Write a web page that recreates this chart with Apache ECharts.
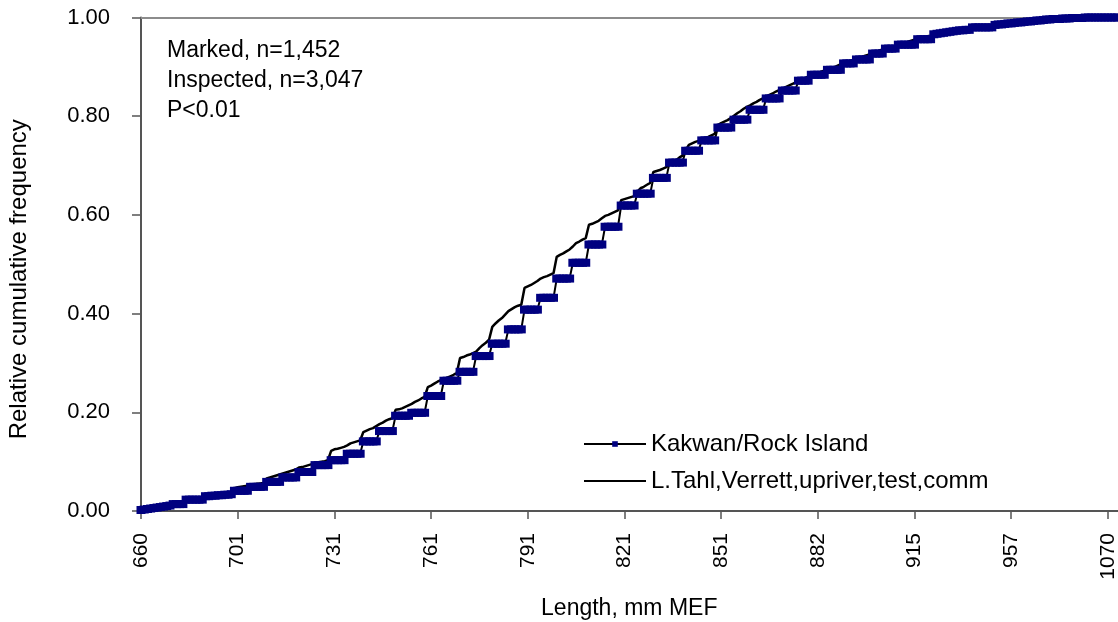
<!DOCTYPE html>
<html><head><meta charset="utf-8">
<script src="https://cdn.jsdelivr.net/npm/echarts@6/dist/echarts.min.js"></script>
<style>html,body{margin:0;padding:0;background:#fff}#c{width:1118px;height:622px}</style>
</head><body><div id="c"></div>
<script>
const lengths = [
660,662,664,666,668,670,672,674,676,678,
680,682,683,684,685,686,687,688,689,690,
691,692,693,694,695,696,697,698,699,700,
701,702,703,704,705,706,707,708,709,710,
711,712,713,714,715,716,717,718,719,720,
721,722,723,724,725,726,727,728,729,730,
731,732,733,734,735,736,737,738,739,740,
741,742,743,744,745,746,747,748,749,750,
751,752,753,754,755,756,757,758,759,760,
761,762,763,764,765,766,767,768,769,770,
771,772,773,774,775,776,777,778,779,780,
781,782,783,784,785,786,787,788,789,790,
791,792,793,794,795,796,797,798,799,800,
801,802,803,804,805,806,807,808,809,810,
811,812,813,814,815,816,817,818,819,820,
821,822,823,824,825,826,827,828,829,830,
831,832,833,834,835,836,837,838,839,840,
841,842,843,844,845,846,847,848,849,850,
851,852,853,854,855,856,857,858,859,860,
861,862,863,864,865,866,867,868,869,870,
871,872,873,874,875,876,877,878,879,881,
882,883,884,885,886,887,888,889,890,891,
892,893,894,895,896,897,898,899,900,901,
902,903,904,905,906,907,908,909,911,913,
915,916,917,918,919,920,921,922,923,924,
925,926,927,928,929,930,931,932,933,934,
936,938,940,942,944,946,948,950,952,955,
957,959,961,963,965,967,969,971,973,975,
977,980,983,986,989,992,995,999,1003,1007,
1011,1016,1021,1026,1031,1036,1042,1048,1055,1062,
1070,1076,1083,1090];

const kakwan = [
0.002,0.003,0.004,0.005,0.006,0.007,0.008,0.009,0.010,0.011,
0.014,0.014,0.014,0.014,0.023,0.023,0.023,0.023,0.023,0.023,
0.030,0.030,0.031,0.031,0.032,0.032,0.033,0.033,0.034,0.041,
0.041,0.041,0.041,0.041,0.049,0.049,0.049,0.049,0.049,0.059,
0.059,0.059,0.059,0.059,0.068,0.068,0.068,0.068,0.068,0.079,
0.079,0.079,0.079,0.079,0.093,0.093,0.093,0.093,0.093,0.103,
0.103,0.103,0.103,0.103,0.116,0.116,0.116,0.116,0.116,0.141,
0.141,0.141,0.141,0.141,0.162,0.162,0.162,0.162,0.162,0.193,
0.193,0.193,0.193,0.193,0.199,0.199,0.199,0.199,0.199,0.233,
0.233,0.233,0.233,0.233,0.264,0.264,0.264,0.264,0.264,0.282,
0.282,0.282,0.282,0.282,0.314,0.314,0.314,0.314,0.314,0.339,
0.339,0.339,0.339,0.339,0.368,0.368,0.368,0.368,0.368,0.408,
0.408,0.408,0.408,0.408,0.432,0.432,0.432,0.432,0.432,0.471,
0.471,0.471,0.471,0.471,0.503,0.503,0.503,0.503,0.503,0.540,
0.540,0.540,0.540,0.540,0.576,0.576,0.576,0.576,0.576,0.619,
0.619,0.619,0.619,0.619,0.643,0.643,0.643,0.643,0.643,0.675,
0.675,0.675,0.675,0.675,0.706,0.706,0.706,0.706,0.706,0.730,
0.730,0.730,0.730,0.730,0.751,0.751,0.751,0.751,0.751,0.777,
0.777,0.777,0.777,0.777,0.793,0.793,0.793,0.793,0.793,0.813,
0.813,0.813,0.813,0.813,0.836,0.836,0.836,0.836,0.836,0.852,
0.852,0.852,0.852,0.852,0.872,0.872,0.872,0.872,0.884,0.884,
0.884,0.884,0.884,0.894,0.894,0.894,0.894,0.894,0.907,0.907,
0.907,0.907,0.915,0.915,0.915,0.915,0.915,0.927,0.927,0.927,
0.927,0.937,0.937,0.937,0.937,0.945,0.945,0.945,0.945,0.945,
0.945,0.956,0.956,0.956,0.956,0.956,0.966,0.967,0.968,0.969,
0.970,0.971,0.972,0.973,0.974,0.974,0.975,0.975,0.980,0.980,
0.980,0.980,0.980,0.980,0.980,0.985,0.986,0.986,0.987,0.988,
0.988,0.989,0.990,0.990,0.991,0.992,0.992,0.993,0.994,0.994,
0.995,0.996,0.996,0.997,0.997,0.997,0.998,0.998,0.998,0.999,
0.999,0.999,0.999,1,1,1,1,1,1,1,
1,1,1,1];

const tahl = [
0.002,0.003,0.004,0.005,0.006,0.007,0.008,0.009,0.010,0.011,
0.013,0.014,0.016,0.017,0.019,0.020,0.022,0.023,0.024,0.025,
0.027,0.028,0.029,0.030,0.031,0.032,0.034,0.035,0.036,0.046,
0.048,0.049,0.050,0.051,0.052,0.054,0.055,0.056,0.057,0.066,
0.068,0.070,0.072,0.074,0.076,0.078,0.080,0.082,0.084,0.088,
0.089,0.091,0.093,0.095,0.098,0.099,0.100,0.101,0.103,0.122,
0.125,0.126,0.128,0.130,0.133,0.137,0.139,0.141,0.143,0.160,
0.163,0.166,0.168,0.172,0.176,0.179,0.183,0.186,0.188,0.205,
0.206,0.208,0.211,0.214,0.217,0.221,0.224,0.228,0.231,0.251,
0.254,0.258,0.262,0.265,0.267,0.270,0.273,0.276,0.280,0.310,
0.312,0.315,0.317,0.320,0.323,0.330,0.336,0.341,0.347,0.373,
0.380,0.386,0.391,0.398,0.405,0.409,0.413,0.416,0.418,0.452,
0.455,0.458,0.462,0.466,0.471,0.474,0.476,0.479,0.482,0.515,
0.519,0.522,0.526,0.530,0.536,0.543,0.546,0.550,0.553,0.580,
0.582,0.585,0.588,0.593,0.598,0.600,0.603,0.606,0.609,0.630,
0.632,0.634,0.636,0.638,0.647,0.654,0.657,0.661,0.665,0.687,
0.689,0.691,0.694,0.697,0.702,0.707,0.711,0.716,0.720,0.731,
0.742,0.745,0.748,0.750,0.753,0.756,0.758,0.761,0.764,0.782,
0.786,0.789,0.792,0.796,0.801,0.806,0.810,0.815,0.819,0.822,
0.826,0.829,0.833,0.836,0.840,0.843,0.846,0.850,0.853,0.856,
0.859,0.862,0.865,0.868,0.872,0.875,0.877,0.880,0.884,0.886,
0.888,0.890,0.892,0.895,0.897,0.899,0.902,0.905,0.908,0.910,
0.912,0.914,0.916,0.918,0.921,0.923,0.925,0.928,0.930,0.933,
0.935,0.937,0.939,0.941,0.943,0.945,0.947,0.949,0.951,0.953,
0.955,0.957,0.959,0.960,0.962,0.963,0.965,0.966,0.967,0.968,
0.969,0.970,0.971,0.972,0.973,0.974,0.975,0.976,0.977,0.978,
0.979,0.980,0.981,0.982,0.983,0.984,0.985,0.986,0.987,0.988,
0.988,0.989,0.990,0.990,0.991,0.992,0.992,0.993,0.994,0.994,
0.995,0.996,0.996,0.997,0.997,0.997,0.998,0.998,0.998,0.999,
0.999,0.999,0.999,1,1,1,1,1,1,1,
1,1,1,1];

const seriesNames = ['Kakwan/Rock Island', 'L.Tahl,Verrett,upriver,test,comm'];
const noteLines = ['Marked, n=1,452', 'Inspected, n=3,047', 'P<0.01'];
const yTicks = [0, 0.2, 0.4, 0.6, 0.8, 1.0];

const FONT = 'Liberation Sans, Arial, sans-serif';
const chart = echarts.init(document.getElementById('c'), null, {renderer: 'canvas'});
chart.setOption({
  animation: false,
  backgroundColor: '#fff',
  grid: {left: 141, right: 0.5, top: 17.5, bottom: 111, containLabel: false, outerBoundsMode: 'none'},
  legend: {
    data: seriesNames, orient: 'vertical', left: 578, top: 427,
    itemWidth: 62, itemHeight: 7, itemGap: 13,
    textStyle: {color: '#000', fontSize: 24, fontFamily: FONT}
  },
  graphic: [{
    type: 'text', left: 167, top: 36,
    style: {text: noteLines.join('\n'), fill: '#000', font: '23px ' + FONT, lineHeight: 30}
  }],
  xAxis: [{
    type: 'category', data: lengths, boundaryGap: false,
    name: 'Length, mm MEF', nameLocation: 'middle', nameGap: 86,
    nameTextStyle: {color: '#000', fontSize: 23, fontFamily: FONT},
    axisLine: {lineStyle: {color: '#555', width: 2}},
    axisTick: {show: true, interval: 29, length: 8, lineStyle: {color: '#555', width: 1.5}},
    axisLabel: {interval: 29, rotate: 90, margin: 22, color: '#000', fontSize: 21, fontFamily: FONT},
    splitLine: {show: false}
  }, {
    type: 'category', data: lengths, boundaryGap: false, position: 'top',
    axisLine: {lineStyle: {color: '#8c8c8c', width: 2}},
    axisTick: {show: false}, axisLabel: {show: false}, splitLine: {show: false}
  }],
  yAxis: {
    type: 'value', min: 0, max: 1, interval: 0.2,
    name: 'Relative cumulative frequency', nameLocation: 'middle', nameGap: 110,
    nameTextStyle: {color: '#000', fontSize: 24, fontFamily: FONT, padding: [0, 30, 0, 0]},
    axisLine: {show: true, lineStyle: {color: '#555', width: 2}},
    axisTick: {show: true, length: 9, lineStyle: {color: '#555', width: 1.5}},
    axisLabel: {margin: 31, color: '#000', fontSize: 22, fontFamily: FONT,
      formatter: v => yTicks.some(t => Math.abs(t - v) < 1e-9) ? v.toFixed(2) : ''},
    splitLine: {show: false}
  },
  series: [{
    name: seriesNames[0], type: 'line', data: kakwan, z: 4,
    symbol: 'rect', symbolSize: [9, 8], showSymbol: true, showAllSymbol: true,
    itemStyle: {color: '#000080', borderWidth: 0},
    lineStyle: {color: '#000', width: 2}
  }, {
    name: seriesNames[1], type: 'line', data: tahl, z: 3,
    symbol: 'none', showSymbol: false,
    itemStyle: {color: 'rgba(0,0,0,0)'},
    lineStyle: {color: '#000', width: 2.5}
  }]
});
</script></body></html>
